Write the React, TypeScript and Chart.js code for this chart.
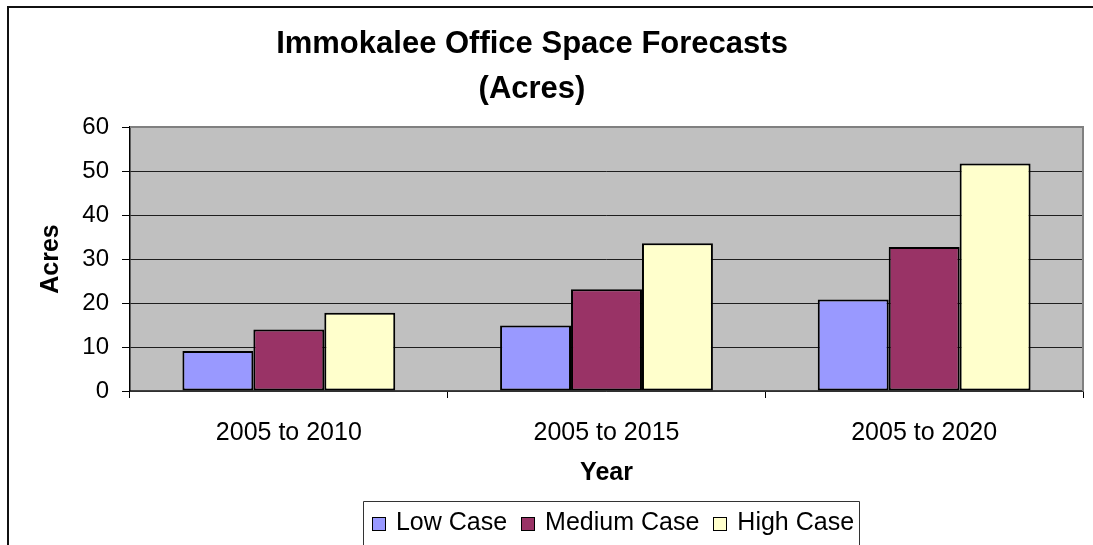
import { useEffect, useRef } from 'react';
import { Chart, registerables } from 'chart.js';

Chart.register(...registerables);

const FONT = "'Liberation Sans', Arial, Helvetica, sans-serif";

const categories = ['2005 to 2010', '2005 to 2015', '2005 to 2020'];
const lowCase = [9.1, 14.9, 20.8];
const mediumCase = [14.0, 23.1, 32.7];
const highCase = [17.8, 33.6, 51.7];
const seriesNames = ['Low Case', 'Medium Case', 'High Case'];
const seriesColors = ['#9999FF', '#993366', '#FFFFCC'];
const titleLines = ['Immokalee Office Space Forecasts', '(Acres)'];
const yAxisTitle = 'Acres';
const xAxisTitle = 'Year';
const yMin = 0;
const yMax = 60;
const yStep = 10;

const decorPlugin = {
  id: 'decor',
  beforeDraw(chart: any) {
    const { ctx, chartArea: a, width, height } = chart;
    ctx.save();
    ctx.fillStyle = '#ffffff';
    ctx.fillRect(0, 0, width, height);
    ctx.fillStyle = '#C0C0C0';
    ctx.fillRect(a.left, a.top, a.right - a.left, a.bottom - a.top);
    ctx.restore();
  },
  afterDraw(chart: any) {
    const { ctx, chartArea: a } = chart;
    ctx.save();
    // plot area border (top & right)
    ctx.strokeStyle = '#808080';
    ctx.lineWidth = 2;
    ctx.beginPath();
    ctx.moveTo(a.left, a.top);
    ctx.lineTo(a.right, a.top);
    ctx.lineTo(a.right, a.bottom);
    ctx.stroke();

    // outer chart border
    ctx.strokeStyle = '#111';
    ctx.lineWidth = 2;
    ctx.beginPath();
    ctx.moveTo(8, 600);
    ctx.lineTo(8, 7);
    ctx.lineTo(1200, 7);
    ctx.stroke();

    // title
    ctx.fillStyle = '#000';
    ctx.font = `bold 31px ${FONT}`;
    ctx.textAlign = 'center';
    ctx.textBaseline = 'middle';
    titleLines.forEach((t, i) => ctx.fillText(t, 532, 44 + i * 45));

    // legend
    ctx.font = `25px ${FONT}`;
    const sq = 13;
    const gapText = 11;
    const gapItem = 14;
    const widths = seriesNames.map((n) => ctx.measureText(n).width);
    const total = widths.reduce((s, w) => s + sq + gapText + w, 0) + gapItem * (seriesNames.length - 1);
    const cx = 613;
    let x = cx - total / 2;
    const cy = 522;
    const boxLeft = Math.round(x - 9) + 0.5;
    const boxRight = Math.round(x + total + 5) + 0.5;
    ctx.strokeStyle = '#333';
    ctx.lineWidth = 1;
    ctx.beginPath();
    ctx.moveTo(boxLeft, 600);
    ctx.lineTo(boxLeft, 501.5);
    ctx.lineTo(boxRight, 501.5);
    ctx.lineTo(boxRight, 600);
    ctx.stroke();
    ctx.textAlign = 'left';
    seriesNames.forEach((n, i) => {
      const sx = Math.round(x) + 0.5;
      const sy = Math.round(cy - sq / 2 + 1) + 0.5;
      ctx.fillStyle = seriesColors[i];
      ctx.fillRect(sx, sy, sq, sq);
      ctx.strokeStyle = '#000';
      ctx.lineWidth = 1;
      ctx.strokeRect(sx, sy, sq, sq);
      ctx.fillStyle = '#000';
      ctx.fillText(n, x + sq + gapText, cy + 1);
      x += sq + gapText + widths[i] + gapItem;
    });
    ctx.restore();
  },
};

export default function App() {
  const canvasRef = useRef<HTMLCanvasElement | null>(null);

  useEffect(() => {
    const canvas = canvasRef.current;
    if (!canvas) return;
    const chart = new Chart(canvas, {
      type: 'bar',
      data: {
        labels: categories,
        datasets: [lowCase, mediumCase, highCase].map((d, i) => ({
          label: seriesNames[i],
          data: d,
          backgroundColor: seriesColors[i],
          borderColor: '#000',
          borderWidth: 2,
          borderSkipped: false,
          categoryPercentage: 0.67,
          barPercentage: 1,
        })),
      },
      options: {
        responsive: false,
        animation: false,
        devicePixelRatio: 1,
        layout: { padding: { top: 127, right: 10, bottom: 0, left: 0 } },
        plugins: {
          legend: { display: false },
          title: { display: false },
          tooltip: { enabled: false },
        },
        scales: {
          x: {
            ticks: { color: '#000', font: { family: FONT, size: 25 }, padding: 20 },
            grid: { drawOnChartArea: false, drawTicks: true, tickLength: 7, color: '#000', tickColor: '#000' },
            border: { display: true, color: '#404040', width: 1.5 },
            title: {
              display: true,
              text: xAxisTitle,
              color: '#000',
              font: { family: FONT, size: 25, weight: 'bold' },
              padding: { top: 0, bottom: 57 },
            },
            afterFit: (s: any) => {
              s.height = 154;
            },
          },
          y: {
            min: yMin,
            max: yMax,
            ticks: { stepSize: yStep, color: '#000', font: { family: FONT, size: 24 }, padding: 13 },
            grid: {
              color: (c: any) => (c.tick && c.tick.value === yMax ? '#808080' : '#1e1e1e'),
              lineWidth: 1,
              tickLength: 8,
              tickColor: '#000',
            },
            border: { display: true, color: '#000', width: 1.5 },
            title: {
              display: true,
              text: yAxisTitle,
              color: '#000',
              font: { family: FONT, size: 25, weight: 'bold' },
              padding: { top: 36, bottom: 0 },
            },
            afterFit: (s: any) => {
              s.width = 130;
            },
          },
        },
      },
      plugins: [decorPlugin],
    } as any);
    return () => chart.destroy();
  }, []);

  return (
    <div style={{ position: 'fixed', left: 0, top: 0, width: 1093, height: 545, background: '#fff' }}>
      <canvas ref={canvasRef} width={1093} height={545} style={{ display: 'block' }} />
    </div>
  );
}
